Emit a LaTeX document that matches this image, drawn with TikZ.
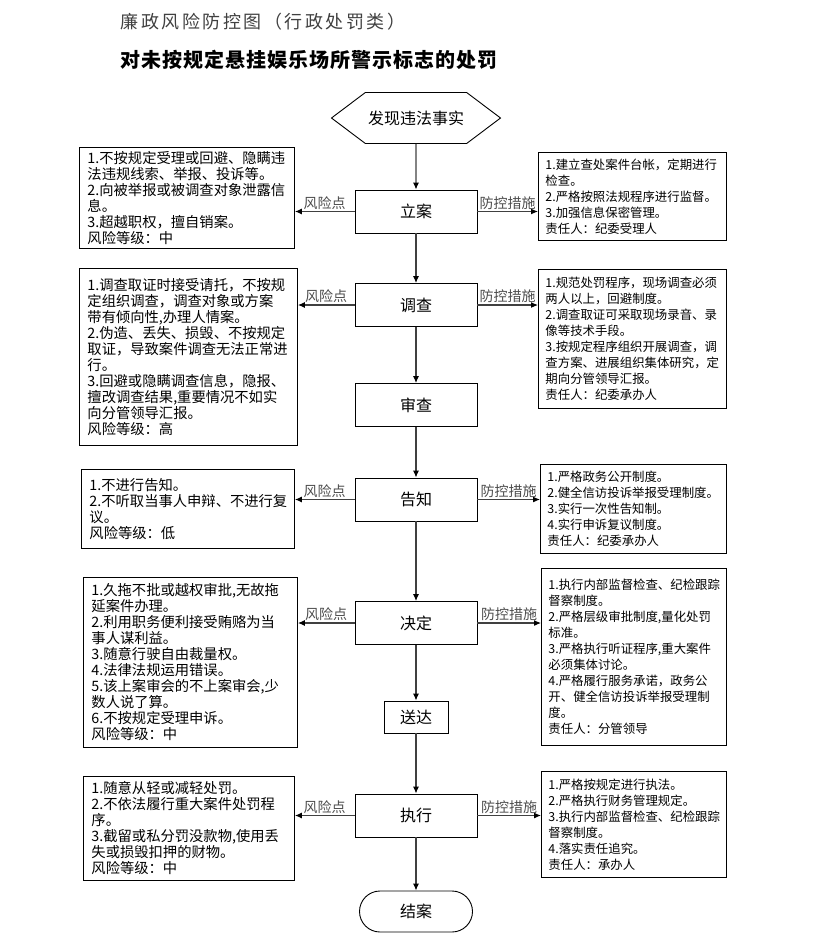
\documentclass[tikz,border=0pt]{standalone}
\usepackage{fontspec}
\setmainfont{Noto Sans CJK SC}
\usetikzlibrary{arrows.meta,shapes.symbols,shapes.misc}

\tikzset{
  stage/.style={draw, line width=0.9pt, minimum width=122, minimum height=43,
    inner sep=0, font=\fontsize{16}{18}\selectfont},
  riskbox/.style={draw, line width=0.9pt, anchor=north west, align=left,
    inner xsep=8, inner ysep=3, font=\fontsize{14.3}{16}\selectfont},
  ctrlbox/.style={draw, line width=0.9pt, anchor=north west, align=left,
    inner xsep=7, inner ysep=3, font=\fontsize{12.4}{16}\selectfont},
  link/.style={draw=black!75, line width=1.1pt, -{Latex[length=7pt,width=6pt,color=black]}},
  tag/.style={text=black!70, inner sep=1.5pt, font=\fontsize{14}{14}\selectfont}
}

\begin{document}
\begin{tikzpicture}[x=1pt, y=-1pt]
      \useasboundingbox (0, 0) rectangle (823, 946);

      \node [anchor=west, text=black!75, font=\fontsize{18}{20}\selectfont\addfontfeature{LetterSpace=14}] (title) at (117, 22) {廉政风险防控图（行政处罚类）};
      \node [anchor=west, font=\fontsize{20}{22}\selectfont\bfseries\addfontfeature{LetterSpace=5}] (subtitle) at (117, 60) {对未按规定悬挂娱乐场所警示标志的处罚};

      \node [draw, line width=0.9pt, signal, signal to=west and east, signal pointer angle=74,
        minimum width=169, minimum height=51, inner sep=0, font=\fontsize{16}{18}\selectfont] (fx) at (416, 118) {发现违法事实};

      \node [stage] (la) at (416, 211.5) {立案};
      \node [stage] (dc) at (416, 305) {调查};
      \node [stage] (sc) at (416, 405) {审查};
      \node [stage] (gz) at (416, 499.5) {告知};
      \node [stage] (jd) at (416, 623) {决定};
      \node [stage, minimum width=64, minimum height=32] (sd) at (416, 717) {送达};
      \node [stage] (zx) at (416, 815.5) {执行};
      \node [draw, line width=0.9pt, rounded rectangle, minimum width=113, minimum height=41,
        inner sep=0, font=\fontsize{16}{18}\selectfont] (ja) at (416, 911.5) {结案};

      \node [riskbox, text width=199, minimum height=101] (L1) at (79, 147) {1.不按规定受理或回避、隐瞒违\\法违规线索、举报、投诉等。\\2.向被举报或被调查对象泄露信\\息。\\3.超越职权，擅自销案。\\风险等级：中};
      \node [riskbox, text width=202, minimum height=177] (L2) at (79, 268) {1.调查取证时接受请托，不按规\\定组织调查，调查对象或方案\\带有倾向性,办理人情案。\\2.伪造、丢失、损毁、不按规定\\取证，导致案件调查无法正常进\\行。\\3.回避或隐瞒调查信息，隐报、\\擅改调查结果,重要情况不如实\\向分管领导汇报。\\风险等级：高};
      \node [riskbox, text width=197, minimum height=79] (L3) at (81, 469) {1.不进行告知。\\2.不听取当事人申辩、不进行复\\议。\\风险等级：低};
      \node [riskbox, text width=198, minimum height=170] (L4) at (83, 577) {1.久拖不批或越权审批,无故拖\\延案件办理。\\2.利用职务便利接受贿赂为当\\事人谋利益。\\3.随意行驶自由裁量权。\\4.法律法规运用错误。\\5.该上案审会的不上案审会,少\\数人说了算。\\6.不按规定受理申诉。\\风险等级：中};
      \node [riskbox, text width=195, minimum height=104] (L5) at (83, 776) {1.随意从轻或减轻处罚。\\2.不依法履行重大案件处罚程\\序。\\3.截留或私分罚没款物,使用丢\\失或损毁扣押的财物。\\风险等级：中};

      \node [ctrlbox, text width=174, minimum height=88] (R1) at (538, 152) {1.建立查处案件台帐，定期进行\\检查。\\2.严格按照法规程序进行监督。\\3.加强信息保密管理。\\责任人：纪委受理人};
      \node [ctrlbox, text width=174, minimum height=139] (R2) at (538, 269) {1.规范处罚程序，现场调查必须\\两人以上，回避制度。\\2.调查取证可采取现场录音、录\\像等技术手段。\\3.按规定程序组织开展调查，调\\查方案、进展组织集体研究，定\\期向分管领导汇报。\\责任人：纪委承办人};
      \node [ctrlbox, text width=172, minimum height=89] (R3) at (540, 464) {1.严格政务公开制度。\\2.健全信访投诉举报受理制度。\\3.实行一次性告知制。\\4.实行申诉复议制度。\\责任人：纪委承办人};
      \node [ctrlbox, text width=171, minimum height=177] (R4) at (541, 568) {1.执行内部监督检查、纪检跟踪\\督察制度。\\2.严格层级审批制度,量化处罚\\标准。\\3.严格执行听证程序,重大案件\\必须集体讨论。\\4.严格履行服务承诺，政务公\\开、健全信访投诉举报受理制\\度。\\责任人：分管领导};
      \node [ctrlbox, text width=171, minimum height=106] (R5) at (541, 771) {1.严格按规定进行执法。\\2.严格执行财务管理规定。\\3.执行内部监督检查、纪检跟踪\\督察制度。\\4.落实责任追究。\\责任人：承办人};

      \foreach \a/\b in {fx/la, la/dc, dc/sc, sc/gz, gz/jd, jd/sd, sd/zx, zx/ja} {
        \draw [link] (\a) -- (\b);
      }

      \foreach \s/\l/\r in {la/L1/R1, dc/L2/R2, gz/L3/R3, jd/L4/R4, zx/L5/R5} {
        \draw [link] (\s.west) -- (\s.west -| \l.east) node [midway, above, tag] {风险点};
        \draw [link] (\s.east) -- (\s.east -| \r.west) node [midway, above, tag] {防控措施};
      }
    \end{tikzpicture}
\end{document}
